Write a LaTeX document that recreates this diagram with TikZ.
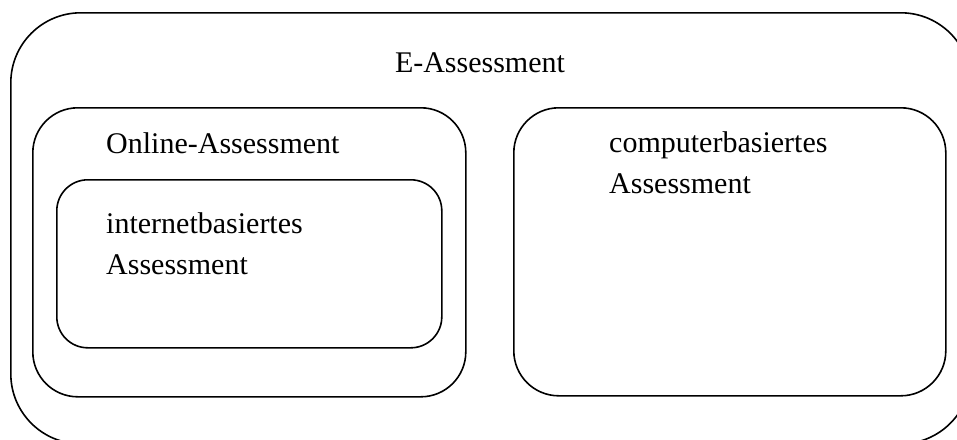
\documentclass[tikz,border=0pt]{standalone}
\usepackage{fontspec}
\setmainfont{Liberation Serif}
\begin{document}
\begin{tikzpicture}[x=1pt,y=-1pt,
  frame/.style={draw=black,line width=1.6pt,inner sep=0pt,anchor=north west},
  label/.style={inner sep=0pt,anchor=base west,align=left,
    font=\fontsize{30}{41}\selectfont}]
\useasboundingbox (0,0) rectangle (957,439);
% outer box runs past the lower and right edge of the page
\begin{scope}
  \clip (0,0) rectangle (957,439);
  \node[frame,rounded corners=70pt,minimum width=960pt,minimum height=431pt] (outer) at (10,12) {};
\end{scope}
\node[frame,rounded corners=45pt,minimum width=433pt,minimum height=289pt] (online) at (32,107) {};
\node[frame,rounded corners=31pt,minimum width=385pt,minimum height=168pt] (internet) at (56,179) {};
\node[frame,rounded corners=45pt,minimum width=432pt,minimum height=288pt] (computer) at (513,107) {};
% labels (two-line labels are placed by the baseline of their last line)
\node[label,anchor=base] (tE) at (480,72) {E-Assessment};
\node[label] (tOnline) at (106,153) {Online-Assessment};
\node[label] (tInternet) at (106,274) {internetbasiertes\\Assessment};
\node[label] (tComputer) at (609,193) {computerbasiertes\\Assessment};
\end{tikzpicture}
\end{document}
